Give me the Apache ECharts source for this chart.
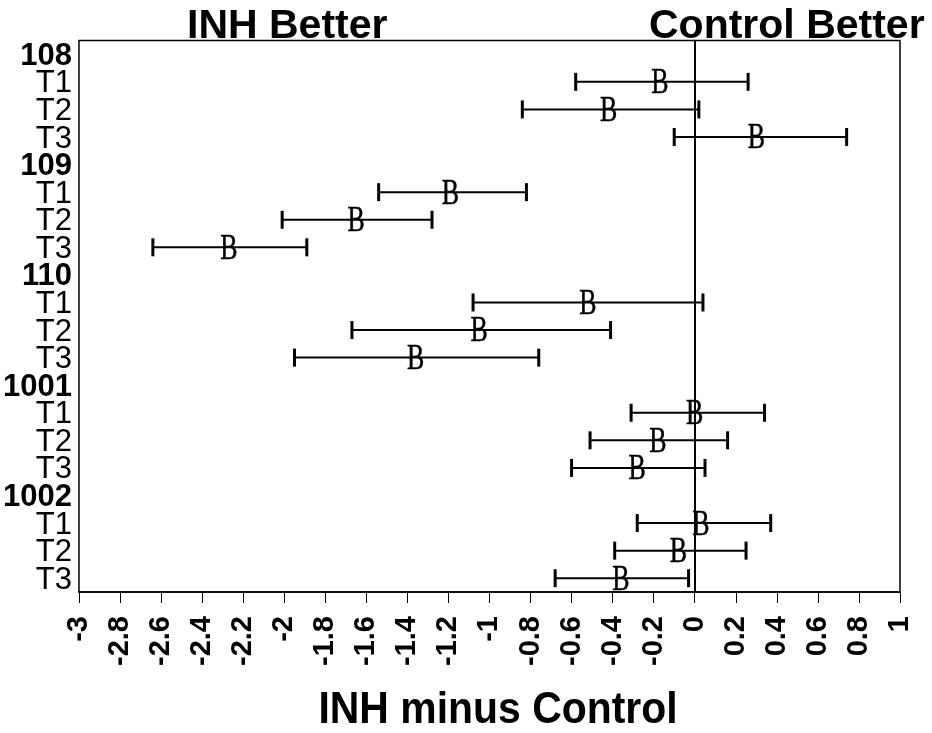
<!DOCTYPE html>
<html>
<head>
<meta charset="utf-8">
<script src="https://cdn.jsdelivr.net/npm/echarts@6/dist/echarts.min.js"></script>
<style>
html,body{margin:0;padding:0;background:#fff;}
#chart{width:932px;height:733px;}
</style>
</head>
<body>
<div id="chart"></div>
<script>
// Row labels (top to bottom)
const rowLabels = ['108','T1','T2','T3','109','T1','T2','T3','110','T1','T2','T3','1001','T1','T2','T3','1002','T1','T2','T3'];
// Lower limit, point estimate ("B") and upper limit for each row (null = group header row)
const lower    = [null,-0.58,-0.84,-0.10, null,-1.54,-2.01,-2.64, null,-1.08,-1.67,-1.95, null,-0.31,-0.51,-0.60, null,-0.28,-0.39,-0.68];
const estimate = [null,-0.17,-0.42, 0.30, null,-1.19,-1.65,-2.27, null,-0.52,-1.05,-1.36, null, 0.00,-0.18,-0.28, null, 0.03,-0.08,-0.36];
const upper    = [null, 0.26, 0.02, 0.74, null,-0.82,-1.28,-1.89, null, 0.04,-0.41,-0.76, null, 0.34, 0.16, 0.05, null, 0.37, 0.25,-0.03];
const xMin = -3, xMax = 1, xStep = 0.2;
const xTitle = 'INH minus Control';
const leftTitle = 'INH Better';
const rightTitle = 'Control Better';
const pointLabel = 'B';

const data = [];
rowLabels.forEach((r, i) => {
  if (lower[i] !== null) data.push([i, lower[i], estimate[i], upper[i]]);
});

const chart = echarts.init(document.getElementById('chart'));
const SANS = '"Liberation Sans", Arial, Helvetica, sans-serif';
const SERIF = '"Liberation Serif", "Times New Roman", serif';

chart.setOption({
  backgroundColor: '#fff',
  animation: false,
  grid: { left: 77.5, top: 40.5, width: 822.5, height: 551.5, show: true, borderColor: '#000', borderWidth: 1.5, backgroundColor: 'transparent' },
  xAxis: {
    type: 'value', min: xMin, max: xMax, interval: xStep,
    splitLine: { show: false },
    axisLine: { show: true, lineStyle: { color: '#000', width: 1.5 } },
    axisTick: { show: true, length: 11, lineStyle: { color: '#000', width: 1 } },
    axisLabel: { rotate: 90, margin: 24, color: '#000', fontSize: 29, fontWeight: 'bold', fontFamily: SANS }
  },
  yAxis: {
    type: 'category', inverse: true, data: rowLabels, boundaryGap: true,
    axisLine: { show: true, lineStyle: { color: '#000', width: 1.5 } },
    axisTick: { show: false },
    splitLine: { show: false },
    axisLabel: {
      interval: 0, margin: 7, padding: [4, 0, 0, 0],
      formatter: v => v.charAt(0) === 'T' ? '{n|' + v + '}' : '{b|' + v + '}',
      rich: {
        n: { fontSize: 31, fontFamily: SANS, color: '#000' },
        b: { fontSize: 31, fontFamily: SANS, fontWeight: 'bold', color: '#000' }
      }
    }
  },
  series: [{
    type: 'custom',
    data: data,
    encode: { y: 0, x: [1, 2, 3] },
    renderItem: function (params, api) {
      const row = api.value(0);
      const p1 = api.coord([api.value(1), row]);
      const pm = api.coord([api.value(2), row]);
      const p2 = api.coord([api.value(3), row]);
      const cap = 9;
      return {
        type: 'group',
        children: [
          { type: 'line', shape: { x1: p1[0], y1: p1[1], x2: p2[0], y2: p2[1] }, style: { stroke: '#000', lineWidth: 2 } },
          { type: 'line', shape: { x1: p1[0], y1: p1[1] - cap, x2: p1[0], y2: p1[1] + cap }, style: { stroke: '#000', lineWidth: 3 } },
          { type: 'line', shape: { x1: p2[0], y1: p2[1] - cap, x2: p2[0], y2: p2[1] + cap }, style: { stroke: '#000', lineWidth: 3 } },
          { type: 'text', x: pm[0], y: pm[1] + 2, scaleX: 0.72,
            style: { text: pointLabel, font: '36px ' + SERIF, fill: '#000', stroke: '#000', lineWidth: 0.5, align: 'center', verticalAlign: 'middle', textAlign: 'center', textVerticalAlign: 'middle' } }
        ]
      };
    },
    markLine: {
      silent: true, symbol: ['none', 'none'], label: { show: false },
      lineStyle: { color: '#000', width: 2, type: 'solid' },
      data: [{ xAxis: 0 }]
    },
    z: 5
  }],
  graphic: [
    { type: 'text', x: 187, y: 27, z: 10, style: { text: leftTitle, font: 'bold 41px ' + SANS, fill: '#000', align: 'left', verticalAlign: 'middle' } },
    { type: 'text', x: 649, y: 27, z: 10, style: { text: rightTitle, font: 'bold 41px ' + SANS, fill: '#000', align: 'left', verticalAlign: 'middle' } },
    { type: 'text', x: 498, y: 711, scaleX: 0.93, z: 10, style: { text: xTitle, font: 'bold 44px ' + SANS, fill: '#000', align: 'center', verticalAlign: 'middle' } }
  ]
});
</script>
</body>
</html>
